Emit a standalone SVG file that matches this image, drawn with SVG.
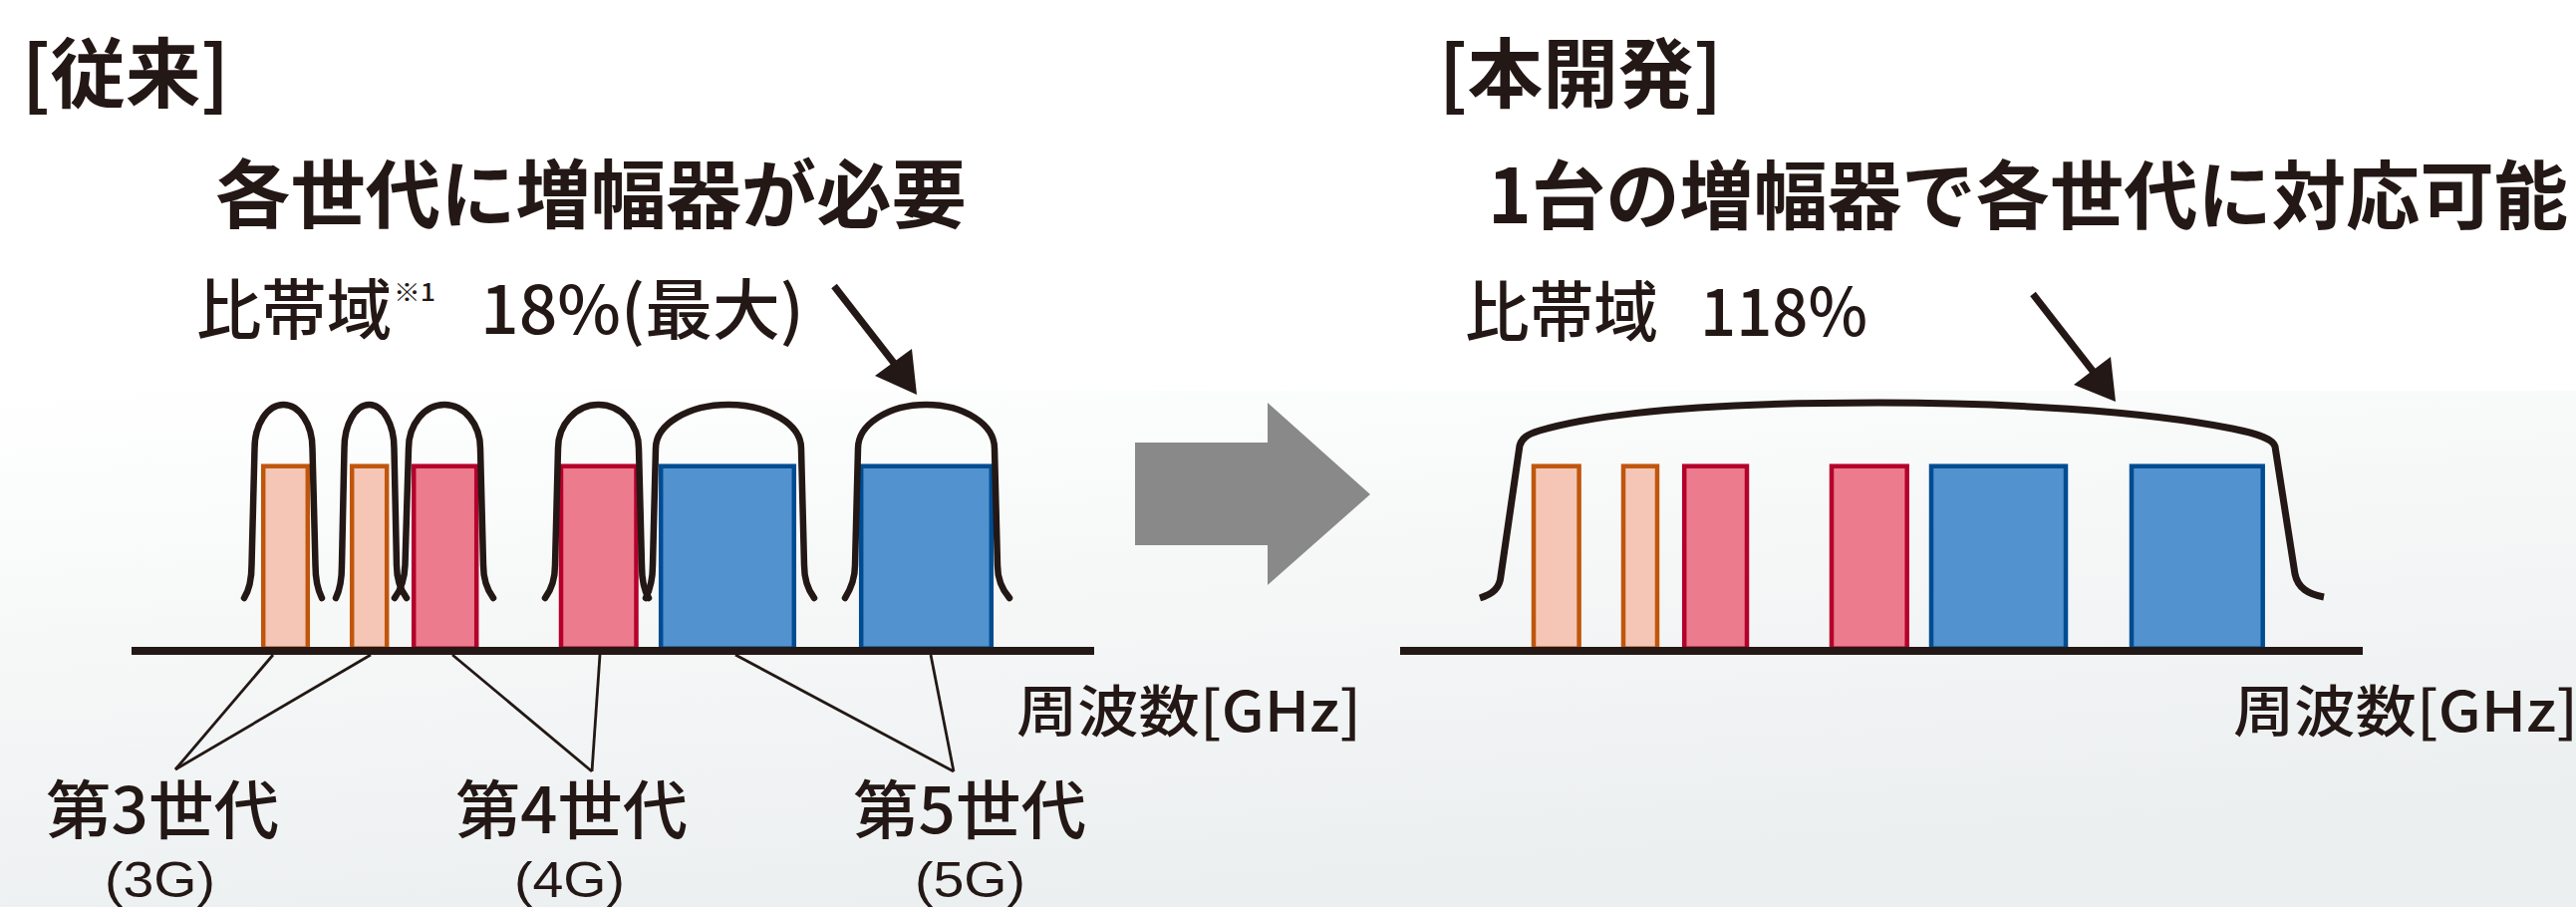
<svg xmlns="http://www.w3.org/2000/svg" width="2585" height="910" viewBox="0 0 2585 910">
<defs>
<linearGradient id="bg" x1="0" y1="0" x2="0.35" y2="1">
<stop offset="0" stop-color="#FFFFFF"/>
<stop offset="0.45" stop-color="#F6F8F8"/>
<stop offset="1" stop-color="#ECEFF0"/>
</linearGradient>
<style>
text{font-family:"Noto Sans CJK JP","Noto Sans",sans-serif;fill:#231815;font-weight:500;}
.hd{font-weight:700;}
.gen{font-family:"Liberation Sans","Noto Sans CJK JP",sans-serif;font-weight:400;}
.band{fill:none;stroke:#231815;stroke-width:6.5;stroke-linecap:round;stroke-linejoin:round;}
.big{fill:none;stroke:#231815;stroke-width:7;stroke-linecap:butt;stroke-linejoin:round;}
.axis{fill:#231815;}
.lead{fill:none;stroke:#231815;stroke-width:2.8;}
.g3{fill:#F5C6B5;stroke:#C0560C;stroke-width:4.5;}
.g4{fill:#EC7B8E;stroke:#B5002B;stroke-width:4.5;}
.g5{fill:#5292CE;stroke:#004C92;stroke-width:4.5;}
.ptr{fill:none;stroke:#231815;stroke-width:7;}
.head{fill:#231815;}
</style>
</defs>
<rect x="0" y="0" width="2585" height="910" fill="#FFFFFF"/>
<rect x="0" y="392" width="2585" height="518" fill="url(#bg)"/>

<!-- Left panel: conventional -->
<g id="title-left">
<text class="hd" x="22" y="102" font-size="76" textLength="208" lengthAdjust="spacingAndGlyphs">[従来]</text>
<text class="hd" x="216" y="223" font-size="75" textLength="754" lengthAdjust="spacingAndGlyphs">各世代に増幅器が必要</text>
</g>
<g id="bw-left">
<text x="197" y="335" font-size="66" textLength="196" lengthAdjust="spacingAndGlyphs">比帯域</text>
<text x="395" y="302" font-size="24" textLength="42" lengthAdjust="spacingAndGlyphs">※1</text>
<text x="482" y="335" font-size="66" textLength="325" lengthAdjust="spacingAndGlyphs">18%(最大)</text>
</g>

<g id="bars-left">
<rect class="g3" x="264.2" y="467.7" width="44.6" height="183"/>
<rect class="g3" x="353.2" y="467.7" width="35" height="183"/>
<rect class="g4" x="415.2" y="467.7" width="63" height="183"/>
<rect class="g4" x="563" y="467.7" width="75.5" height="183"/>
<rect class="g5" x="663.2" y="467.7" width="133.6" height="183"/>
<rect class="g5" x="864.2" y="467.7" width="130.6" height="183"/>
</g>

<g id="bands-left">
<path class="band" d="M245,600 C250,592 252.5,582 252.5,567 L255.5,450 C255.5,425.7 268.5,406 284.5,406 C300.5,406 313.5,425.7 313.5,450 L316.5,567 C316.5,582 319,592 323,600"/>
<path class="band" d="M337,600 C341,592 343,582 343,567 L345.5,450 C345.5,425.7 356.7,406 370.5,406 C384.3,406 395.5,425.7 395.5,450 L398,567 C398,582 402,592 408,600"/>
<path class="band" d="M396,600 C402,592 406,582 406.5,567 L410,450 C410,425.7 426.1,406 446,406 C465.9,406 482,425.7 482,450 L485,567 C485,582 489,592 495,600"/>
<path class="band" d="M547,600 C553,592 557,582 557,567 L560,450 C560,425.7 578.1,406 600.5,406 C622.9,406 641,425.7 641,450 L644,567 C644,582 646,592 651,600"/>
<path class="band" d="M648,600 C652,592 655,582 655,567 L658,450 C658,425.7 690.7,406 731,406 C771.3,406 804,425.7 804,450 L807,567 C807,582 811,592 817,600"/>
<path class="band" d="M848,600 C853,592 858,582 858,567 L861,450 C861,425.7 891.7,406 929.5,406 C967.3,406 998,425.7 998,450 L1001,567 C1001,582 1006,592 1013,600"/>
</g>

<g id="axis-left">
<rect class="axis" x="132" y="649" width="966" height="8"/>
</g>

<g id="pointer-left">
<line class="ptr" x1="837" y1="287" x2="900" y2="368"/>
<polygon class="head" points="878,377 915,350 920,396"/>
</g>

<g id="leaders">
<line class="lead" x1="274" y1="657" x2="176" y2="772"/>
<line class="lead" x1="372" y1="657" x2="176" y2="772"/>
<line class="lead" x1="454" y1="657" x2="594" y2="774"/>
<line class="lead" x1="602" y1="657" x2="594" y2="774"/>
<line class="lead" x1="738" y1="657" x2="957" y2="774"/>
<line class="lead" x1="934" y1="657" x2="957" y2="774"/>
</g>

<g id="label-3g">
<text x="46" y="836" font-size="64" textLength="234" lengthAdjust="spacingAndGlyphs">第3世代</text>
<text class="gen" x="105" y="900" font-size="50" textLength="111" lengthAdjust="spacingAndGlyphs">(3G)</text>
</g>
<g id="label-4g">
<text x="457" y="836" font-size="64" textLength="233" lengthAdjust="spacingAndGlyphs">第4世代</text>
<text class="gen" x="516" y="900" font-size="50" textLength="111" lengthAdjust="spacingAndGlyphs">(4G)</text>
</g>
<g id="label-5g">
<text x="856" y="836" font-size="64" textLength="234" lengthAdjust="spacingAndGlyphs">第5世代</text>
<text class="gen" x="918" y="900" font-size="50" textLength="111" lengthAdjust="spacingAndGlyphs">(5G)</text>
</g>
<g id="freq-left">
<text x="1020" y="734" font-size="56" textLength="346" lengthAdjust="spacingAndGlyphs">周波数[GHz]</text>
</g>

<!-- Transition arrow -->
<g id="arrow-mid">
<polygon points="1139,444 1272,444 1272,404 1375,496 1272,587 1272,547 1139,547" fill="#898989"/>
</g>

<!-- Right panel: new development -->
<g id="title-right">
<text class="hd" x="1444" y="102" font-size="76" textLength="284" lengthAdjust="spacingAndGlyphs">[本開発]</text>
<text class="hd" x="1493" y="224" font-size="75" textLength="1084" lengthAdjust="spacingAndGlyphs">1台の増幅器で各世代に対応可能</text>
</g>
<g id="bw-right">
<text x="1470" y="337" font-size="66" textLength="194" lengthAdjust="spacingAndGlyphs">比帯域</text>
<text x="1706" y="337" font-size="66" textLength="168" lengthAdjust="spacingAndGlyphs">118%</text>
</g>

<g id="bars-right">
<rect class="g3" x="1539" y="467.7" width="45.6" height="183"/>
<rect class="g3" x="1629" y="467.7" width="34" height="183"/>
<rect class="g4" x="1690.2" y="467.7" width="62.8" height="183"/>
<rect class="g4" x="1838" y="467.7" width="75.7" height="183"/>
<rect class="g5" x="1938" y="467.7" width="135" height="183"/>
<rect class="g5" x="2139" y="467.7" width="131.7" height="183"/>
</g>

<g id="band-right">
<path class="big" d="M1485,600 C1498,596 1505,590 1506,578 L1525,447 C1527,440 1532,436 1545,432 C1620,410 1760,404 1885,404 C2010,404 2150,412 2240,430 C2270,436 2281,441 2283,448 L2303,576 C2306,590 2316,596 2332,599"/>
</g>

<g id="axis-right">
<rect class="axis" x="1405" y="649" width="966" height="8"/>
</g>

<g id="pointer-right">
<line class="ptr" x1="2040" y1="295" x2="2103" y2="376"/>
<polygon class="head" points="2081,386 2118,358 2123,403"/>
</g>

<g id="freq-right">
<text x="2241" y="734" font-size="56" textLength="346" lengthAdjust="spacingAndGlyphs">周波数[GHz]</text>
</g>
</svg>
